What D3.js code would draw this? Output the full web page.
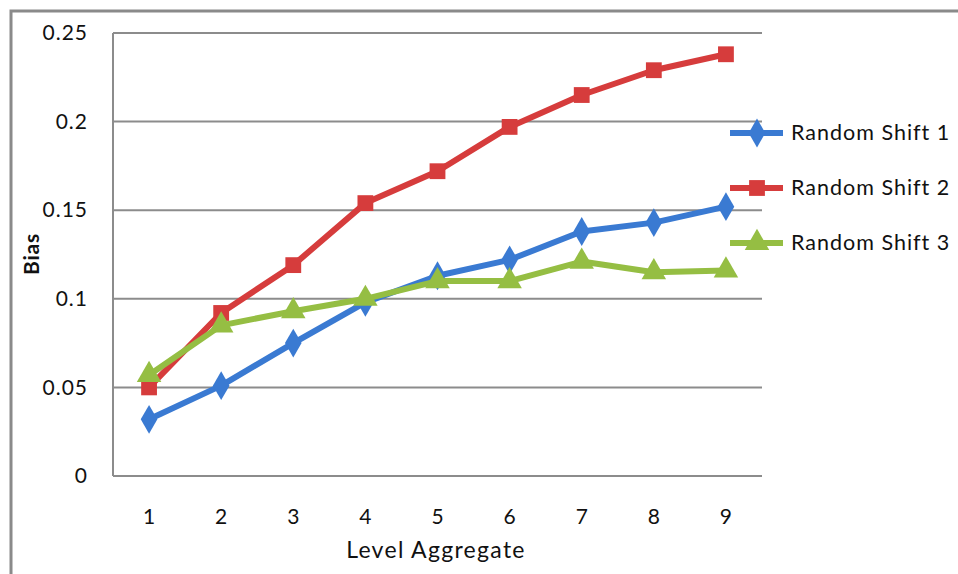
<!DOCTYPE html>
<html><head><meta charset="utf-8">
<script src="https://cdn.jsdelivr.net/npm/d3@7"></script>
<style>body{margin:0;background:#fff;} svg{display:block;}</style>
</head><body>
<svg id="chart" width="958" height="574"></svg>
<script>
const categories = ["1","2","3","4","5","6","7","8","9"];
const seriesNames = ["Random Shift 1","Random Shift 2","Random Shift 3"];
const shift1 = [0.032,0.051,0.075,0.098,0.113,0.122,0.138,0.143,0.152];
const shift2 = [0.050,0.092,0.119,0.154,0.172,0.197,0.215,0.229,0.238];
const shift3 = [0.057,0.085,0.093,0.100,0.110,0.110,0.121,0.115,0.116];
const yTicks = [0,0.05,0.1,0.15,0.2,0.25];
const yTickLabels = ["0","0.05","0.1","0.15","0.2","0.25"];

(function(){
const colors = ["#3a7ad2","#d63c3c","#95be43"];
const symbols = [d3.symbolDiamond, d3.symbolSquare, d3.symbolTriangle];
const allSeries = [shift1, shift2, shift3];

const svg = d3.select("#chart");
const font = "Lato, 'Open Sans', sans-serif";

svg.append("rect").attr("x",11).attr("y",11).attr("width",1000).attr("height",700)
  .attr("fill","none").attr("stroke","#8a8a8a").attr("stroke-width",3);

const pL=113, pR=762, pT=33, pB=476;
const x = d3.scaleBand().domain(categories).range([pL,pR]);
const y = d3.scaleLinear().domain([0,0.25]).range([pB,pT]);

svg.append("g").selectAll("line").data(yTicks).join("line")
  .attr("x1",pL).attr("x2",pR)
  .attr("y1",d=>y(d)).attr("y2",d=>y(d))
  .attr("stroke","#8c8c8c").attr("stroke-width",2);
svg.append("line").attr("x1",pL).attr("x2",pL).attr("y1",pT).attr("y2",pB)
  .attr("stroke","#8c8c8c").attr("stroke-width",2);

const yAxis = d3.axisLeft(y).tickValues(yTicks).tickFormat((d,i)=>yTickLabels[i]).tickSize(0).tickPadding(25);
const ya = svg.append("g").attr("transform",`translate(${pL},0)`).call(yAxis);
ya.select(".domain").remove();
ya.selectAll("text").attr("font-family",font).attr("font-size",21).attr("letter-spacing",1).attr("fill","#111");

const xAxis = d3.axisBottom(x).tickSize(0).tickPadding(33);
const xa = svg.append("g").attr("transform",`translate(0,${pB})`).call(xAxis);
xa.select(".domain").remove();
xa.selectAll("text").attr("font-family",font).attr("font-size",21).attr("fill","#111");

svg.append("text").attr("x",436).attr("y",558).attr("text-anchor","middle")
  .attr("font-family",font).attr("font-size",23).attr("letter-spacing",1.3).attr("fill","#111").text("Level Aggregate");
svg.append("text").attr("transform","translate(39,254) rotate(-90)").attr("text-anchor","middle")
  .attr("font-family",font).attr("font-size",21).attr("letter-spacing",0.8).attr("font-weight","bold").attr("fill","#111").text("Bias");

const line = d3.line().x((d,i)=>x(categories[i])+x.bandwidth()/2).y(d=>y(d));
const sizes = [240,250,260];
allSeries.forEach((s,k)=>{
  svg.append("path").datum(s).attr("d",line).attr("fill","none")
    .attr("stroke",colors[k]).attr("stroke-width",6).attr("stroke-linejoin","round");
});
allSeries.forEach((s,k)=>{
  svg.append("g").selectAll("path").data(s).join("path")
    .attr("transform",(d,i)=>`translate(${x(categories[i])+x.bandwidth()/2},${y(d)})`)
    .attr("d",d3.symbol().type(symbols[k]).size(sizes[k]))
    .attr("fill",colors[k]);
});

const legY = [133,188,243];
seriesNames.forEach((n,k)=>{
  const g = svg.append("g");
  g.append("line").attr("x1",730).attr("x2",783).attr("y1",legY[k]).attr("y2",legY[k])
    .attr("stroke",colors[k]).attr("stroke-width",6);
  g.append("path").attr("transform",`translate(757,${legY[k]})`)
    .attr("d",d3.symbol().type(symbols[k]).size(sizes[k])).attr("fill",colors[k]);
  g.append("text").attr("x",791).attr("y",legY[k]+7).attr("font-family",font)
    .attr("font-size",21.5).attr("letter-spacing",1).attr("fill","#111").text(n);
});
})();
</script>
</body></html>
